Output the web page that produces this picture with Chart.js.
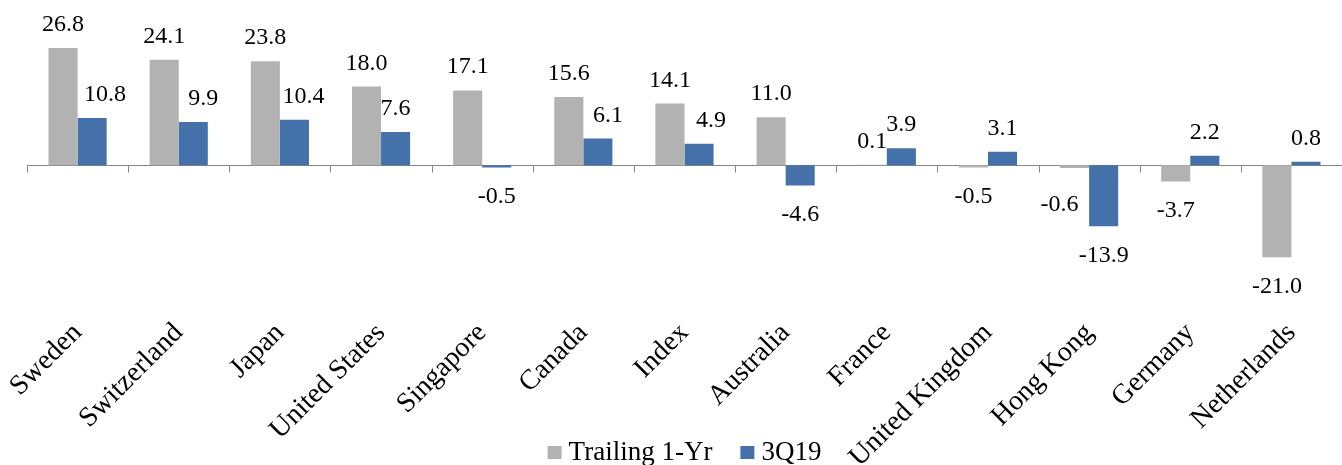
<!DOCTYPE html>
<html><head><meta charset="utf-8">
<script src="https://cdn.jsdelivr.net/npm/chart.js@4.4.0/dist/chart.umd.min.js"></script>
<style>html,body{margin:0;padding:0;background:#fff;overflow:hidden;}#wrap{width:1342px;height:465px;}</style>
</head><body><div id="wrap"><canvas id="c" width="1342" height="465"></canvas></div>
<script>
const categories = ['Sweden','Switzerland','Japan','United States','Singapore','Canada','Index','Australia','France','United Kingdom','Hong Kong','Germany','Netherlands'];
const trailing1Yr = [26.8, 24.1, 23.8, 18.0, 17.1, 15.6, 14.1, 11.0, 0.1, -0.5, -0.6, -3.7, -21.0];
const q3_2019 = [10.8, 9.9, 10.4, 7.6, -0.5, 6.1, 4.9, -4.6, 3.9, 3.1, -13.9, 2.2, 0.8];
const seriesNames = ['Trailing 1-Yr', '3Q19'];

const SERIF = '"Liberation Serif", "Times New Roman", serif';

const zeroAxis = {
  id: 'zeroAxis',
  beforeDatasetsDraw(chart) {
    const {ctx, scales: {x, y}, chartArea} = chart;
    const y0 = Math.round(y.getPixelForValue(0)) + 0.5;
    const n = x.ticks.length;
    const step = (chartArea.right - chartArea.left) / n;
    ctx.save();
    ctx.strokeStyle = '#868686';
    ctx.lineWidth = 1;
    ctx.beginPath();
    ctx.moveTo(chartArea.left, y0);
    ctx.lineTo(chartArea.right, y0);
    for (let i = 0; i <= n; i++) {
      const xx = Math.round(chartArea.left + i * step) + 0.5;
      ctx.moveTo(xx, y0);
      ctx.lineTo(xx, y0 + 7);
    }
    ctx.stroke();
    ctx.restore();
  }
};

const barLabels = {
  id: 'barLabels',
  afterDatasetsDraw(chart, args, opts) {
    const ctx = chart.ctx;
    ctx.save();
    ctx.font = opts.size + 'px ' + SERIF;
    ctx.fillStyle = '#000';
    ctx.textAlign = 'center';
    ctx.textBaseline = 'alphabetic';
    chart.data.datasets.forEach((ds, di) => {
      const meta = chart.getDatasetMeta(di);
      meta.data.forEach((bar, i) => {
        const v = ds.data[i];
        const nd = (opts.nudge[di] || {})[i] || [0, 0];
        const yy = v >= 0 ? bar.y - opts.above : bar.y + opts.below;
        ctx.fillText(v.toFixed(1), bar.x + nd[0], yy + nd[1]);
      });
    });
    ctx.restore();
  }
};

const customLegend = {
  id: 'customLegend',
  afterDraw(chart, args, opts) {
    const ctx = chart.ctx;
    const ca = chart.chartArea;
    ctx.save();
    ctx.font = opts.size + 'px ' + SERIF;
    ctx.textBaseline = 'alphabetic';
    ctx.textAlign = 'left';
    const items = chart.data.datasets.map(ds => ({ds, w: ctx.measureText(ds.label).width}));
    let total = 0;
    items.forEach((it, k) => { total += opts.box + opts.gap + it.w + (k < items.length - 1 ? opts.itemGap : 0); });
    let x = (ca.left + ca.right) / 2 - total / 2;
    items.forEach(it => {
      ctx.fillStyle = it.ds.backgroundColor;
      ctx.fillRect(x, opts.y - 14, opts.box, 13);
      ctx.fillStyle = '#000';
      ctx.fillText(it.ds.label, x + opts.box + opts.gap, opts.y);
      x += opts.box + opts.gap + it.w + opts.itemGap;
    });
    ctx.restore();
  }
};

new Chart(document.getElementById('c'), {
  type: 'bar',
  data: {
    labels: categories,
    datasets: [
      {label: seriesNames[0], data: trailing1Yr, backgroundColor: '#B2B2B2', categoryPercentage: 0.575, barPercentage: 1.0},
      {label: seriesNames[1], data: q3_2019, backgroundColor: '#4471AA', categoryPercentage: 0.575, barPercentage: 1.0}
    ]
  },
  options: {
    responsive: false,
    animation: false,
    devicePixelRatio: 1,
    layout: {padding: {top: 34, left: 27, right: 0, bottom: 0}},
    plugins: {
      legend: {display: false},
      tooltip: {enabled: false},
      barLabels: {
        size: 24, above: 17, below: 36,
        nudge: {0: {10: [-15, 7]}, 1: {0: [13, 0], 1: [10, 0], 2: [9, 0], 5: [10, 0], 6: [12, 0]}}
      },
      customLegend: {size: 27, y: 460, box: 14, gap: 7, itemGap: 28}
    },
    scales: {
      x: {
        grid: {display: false, drawTicks: false},
        border: {display: false},
        ticks: {minRotation: 45, maxRotation: 45, autoSkip: false, padding: 20, color: '#000',
                font: {family: SERIF, size: 28}},
        afterFit(s) { s.height = 168.4; s.paddingLeft = 0; s.paddingRight = 0; }
      },
      y: {display: false, min: -30, max: 30}
    }
  },
  plugins: [zeroAxis, barLabels, customLegend]
});
</script>
</body></html>
